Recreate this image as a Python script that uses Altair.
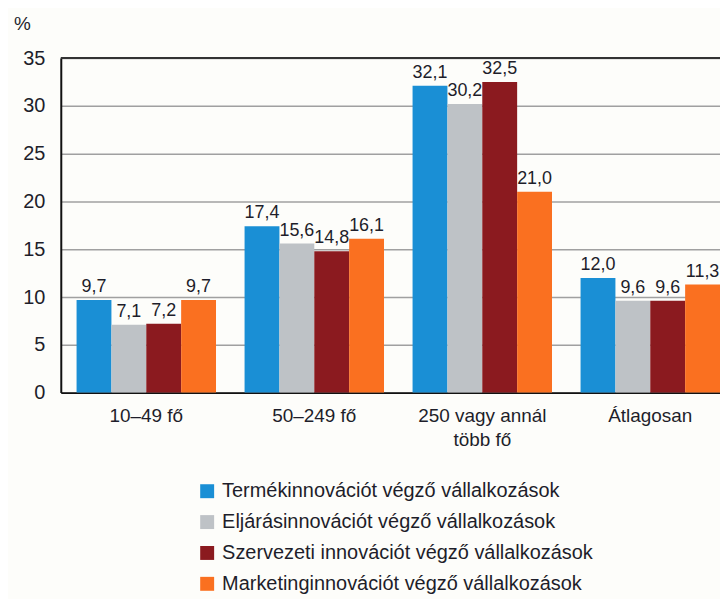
import altair as alt
import pandas as pd

categories = ["10–49 fő", "50–249 fő", "250 vagy annál több fő", "Átlagosan"]
series = [
    "Termékinnovációt végző vállalkozások",
    "Eljárásinnovációt végző vállalkozások",
    "Szervezeti innovációt végző vállalkozások",
    "Marketinginnovációt végző vállalkozások",
]
termek = [9.7, 17.4, 32.1, 12.0]
eljaras = [7.1, 15.6, 30.2, 9.6]
szervezeti = [7.2, 14.8, 32.5, 9.6]
marketing = [9.7, 16.1, 21.0, 11.3]
colors = ["#1a8fd5", "#bec2c6", "#8b1a1f", "#fa7020"]
y_ticks = [0, 5, 10, 15, 20, 25, 30, 35]

rows = []
for s, vals in zip(series, [termek, eljaras, szervezeti, marketing]):
    for c, v in zip(categories, vals):
        rows.append({"cat": c, "series": s, "value": v,
                     "label": f"{v:.1f}".replace(".", ",")})
df = pd.DataFrame(rows)

FONT = "Liberation Sans"
TXT = "#1e1e2a"

x_enc = alt.X("cat:N", sort=categories, title=None,
              scale=alt.Scale(paddingInner=0.17, paddingOuter=0.047, align=1.0),
              axis=alt.Axis(labelAngle=0, ticks=False, domainColor="#111", domainWidth=2,
                            labelFontSize=19, labelFont=FONT, labelColor=TXT,
                            labelPadding=14, labelLineHeight=24,
                            labelExpr="datum.label == '250 vagy annál több fő' ? ['250 vagy annál', 'több fő'] : datum.label"))
y_enc = alt.Y("value:Q", title="%",
              scale=alt.Scale(domain=[0, 35], nice=False),
              axis=alt.Axis(values=y_ticks, ticks=False, domainColor="#111", domainWidth=2,
                            gridColor="#a0a0a0", gridWidth=1.5,
                            labelFontSize=20, labelFont=FONT, labelColor=TXT, labelPadding=16,
                            titleAngle=0, titleX=-39, titleY=-35, titleAlign="center",
                            titleBaseline="middle", titleFontSize=19, titleFontWeight="normal",
                            titleFont=FONT, titleColor=TXT))
xo = alt.XOffset("series:N", sort=series, scale=alt.Scale(paddingInner=0, paddingOuter=0))

base = alt.Chart(df).encode(x=x_enc, xOffset=xo)

bars = base.mark_bar().encode(
    y=y_enc,
    color=alt.Color("series:N", sort=series, title=None,
                    scale=alt.Scale(domain=series, range=colors),
                    legend=alt.Legend(orient="none", legendX=137, legendY=425,
                                      symbolType="square", symbolSize=196, symbolStrokeWidth=0,
                                      labelFontSize=20, labelFont=FONT, labelColor=TXT,
                                      labelOffset=5, rowPadding=11, padding=0,
                                      labelLimit=600, direction="vertical")),
)

labels = base.mark_text(baseline="alphabetic", dy=-8, fontSize=18, font=FONT, color=TXT).encode(
    y="value:Q", text="label:N"
)

top_line = alt.Chart(pd.DataFrame({"v": [35]})).mark_rule(color="#333", strokeWidth=2).encode(
    y="v:Q"
)

chart = alt.layer(bars, labels, top_line).properties(
    width=662, height=336,
    background="#fdfdfa",
    autosize=alt.AutoSizeParams(type="none"),
    padding={"left": 53, "top": 49, "right": 0, "bottom": 206},
).configure_view(strokeWidth=0)

chart.save("out.html", embed_options={"renderer": "svg", "actions": False})
